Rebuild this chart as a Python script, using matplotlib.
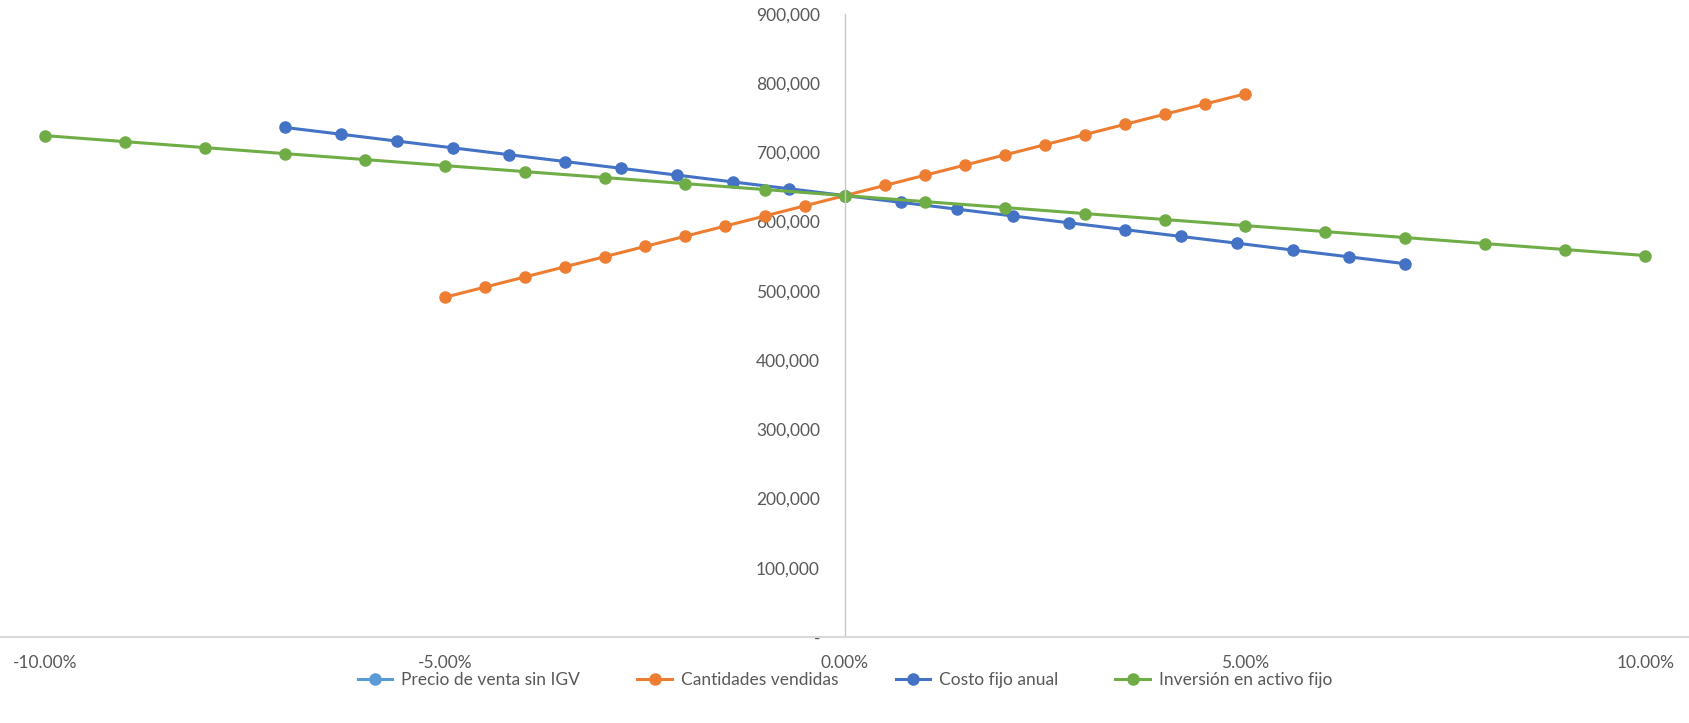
import matplotlib.pyplot as plt
from matplotlib.ticker import FuncFormatter

plt.rcParams['font.family'] = ['Lato', 'DejaVu Sans']

# variation (%) applied to each variable
var_precio = []
var_cantidad = [-5.0, -4.5, -4.0, -3.5, -3.0, -2.5, -2.0, -1.5, -1.0, -0.5, 0.0,
                0.5, 1.0, 1.5, 2.0, 2.5, 3.0, 3.5, 4.0, 4.5, 5.0]
var_costo = [-7.0, -6.3, -5.6, -4.9, -4.2, -3.5, -2.8, -2.1, -1.4, -0.7, 0.0,
             0.7, 1.4, 2.1, 2.8, 3.5, 4.2, 4.9, 5.6, 6.3, 7.0]
var_inversion = [-10.0, -9.0, -8.0, -7.0, -6.0, -5.0, -4.0, -3.0, -2.0, -1.0, 0.0,
                 1.0, 2.0, 3.0, 4.0, 5.0, 6.0, 7.0, 8.0, 9.0, 10.0]

# resulting VAN
van_precio = []
van_cantidad = [490500, 505200, 519900, 534600, 549200, 563900, 578600, 593300,
                608000, 622700, 637400, 652100, 666800, 681500, 696200, 710900,
                725600, 740300, 755000, 769600, 784300]
van_costo = [735800, 726000, 716100, 706300, 696500, 686600, 676800, 667000,
             657100, 647300, 637400, 627600, 617800, 607900, 598100, 588200,
             578400, 568600, 558700, 548900, 539000]
van_inversion = [724000, 715300, 706700, 698000, 689400, 680700, 672000, 663400,
                 654700, 646100, 637400, 628700, 620100, 611400, 602800, 594100,
                 585400, 576800, 568100, 559500, 550800]

series = [
    ("Precio de venta sin IGV", var_precio, van_precio, "#5B9BD5"),
    ("Cantidades vendidas", var_cantidad, van_cantidad, "#ED7D31"),
    ("Costo fijo anual", var_costo, van_costo, "#4472C4"),
    ("Inversión en activo fijo", var_inversion, van_inversion, "#70AD47"),
]

text_color = "#595959"
axis_color = "#D9D9D9"

fig = plt.figure(figsize=(16.9, 7.23), dpi=100)
ax = fig.add_axes([0.0, 0.119, 1.0, 0.862])

for name, xs, ys, color in series:
    ax.plot([v / 100 for v in xs], ys, color=color, lw=2.2, marker="o",
            markersize=8, label=name)

ax.set_xlim(-0.1056, 0.1056)
ax.set_ylim(0, 900000)
ax.set_xticks([-0.10, -0.05, 0.0, 0.05, 0.10])
ax.set_yticks(range(0, 900001, 100000))
ax.xaxis.set_major_formatter(FuncFormatter(lambda v, p: f"{v * 100:.2f}%"))
ax.yaxis.set_major_formatter(FuncFormatter(lambda v, p: "-" if v == 0 else f"{v:,.0f}"))

ax.spines['top'].set_visible(False)
ax.spines['right'].set_visible(False)
ax.spines['left'].set_position(('data', 0))
ax.spines['left'].set_color("#C8C8C8")
ax.spines['bottom'].set_color(axis_color)
ax.spines['left'].set_linewidth(1)
ax.spines['bottom'].set_linewidth(1.5)
ax.tick_params(axis='y', length=0, pad=18, labelsize=12.5, labelcolor=text_color)
ax.tick_params(axis='x', length=0, pad=13, labelsize=12.5, labelcolor=text_color)

fig.legend(loc="center", bbox_to_anchor=(0.5, 0.0595), ncol=4, frameon=False,
           fontsize=12.5, labelcolor=text_color, handlelength=2.0,
           handletextpad=0.5, columnspacing=3.3)

fig.savefig("out.png", dpi=100)
